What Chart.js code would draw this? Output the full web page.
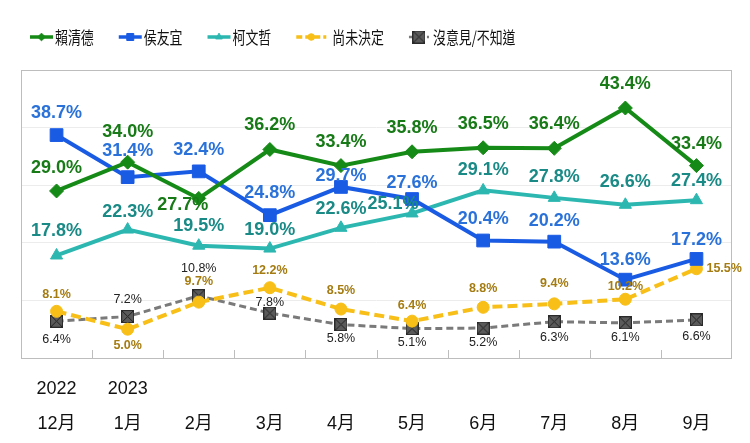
<!DOCTYPE html>
<html>
<head>
<meta charset="utf-8">
<script src="https://cdn.jsdelivr.net/npm/chart.js@4.4.0/dist/chart.umd.min.js"></script>
<style>
  html, body { margin: 0; padding: 0; background: #fff; }
</style>
</head>
<body>
<canvas id="chart" width="750" height="443"></canvas>
<script>
// Poll data
const years     = ['2022', '2023', '', '', '', '', '', '', '', '']
const months    = ['12月', '1月', '2月', '3月', '4月', '5月', '6月', '7月', '8月', '9月']
const lai       = [29.0, 34.0, 27.7, 36.2, 33.4, 35.8, 36.5, 36.4, 43.4, 33.4]
const hou       = [38.7, 31.4, 32.4, 24.8, 29.7, 27.6, 20.4, 20.2, 13.6, 17.2]
const ko        = [17.8, 22.3, 19.5, 19.0, 22.6, 25.1, 29.1, 27.8, 26.6, 27.4]
const undecided = [8.1, 5.0, 9.7, 12.2, 8.5, 6.4, 8.8, 9.4, 10.2, 15.5]
const noOpinion = [6.4, 7.2, 10.8, 7.8, 5.8, 5.1, 5.2, 6.3, 6.1, 6.6]

// label placement (offset of label centre from the point)
const laiLabelDy       = [-23, -30, 7, -24, -24, -24, -24, -24, -24, -22]
const houLabelDy       = [-22, -26, -21, -22, -11, -16, -21, -21, -20, -19]
const koLabelDy        = [-24, -18, -20, -19, -19, -9, -20, -21, -23, -19]
const undecidedLabelDy = [-17, 16, -21, -17, -18, -16, -19, -20, -13, 0]
const noOpinionLabelDy = [18, -17, -27, -11, 14, 14, 14, 16, 15, 17]

const CJK = '"Noto Sans CJK TC", "Noto Sans CJK SC", sans-serif'
const NUM = '"Liberation Sans", Arial, sans-serif'

// gray square with an X, used for the "no opinion" series
function crossBox(size)
{
  const cv = document.createElement('canvas')
  cv.width = size; cv.height = size
  const c = cv.getContext('2d')
  c.fillStyle = '#5a5a5a'
  c.fillRect(0, 0, size, size)
  c.strokeStyle = '#2a2a2a'
  c.lineWidth = 1
  c.strokeRect(0.5, 0.5, size - 1, size - 1)
  c.beginPath()
  c.moveTo(1, 1); c.lineTo(size - 1, size - 1)
  c.moveTo(size - 1, 1); c.lineTo(1, size - 1)
  c.strokeStyle = '#202020'
  c.stroke()
  return cv
}

const series = [
  { label: '賴清德', data: lai, color: '#168a16', text: '#177a17', style: 'rectRot', radius: 7,
    width: 4, dash: [], dy: laiLabelDy, font: 'bold 18px ' + NUM, sampleW: 23, gap: 2 },
  { label: '侯友宜', data: hou, color: '#1a5be4', text: '#2a72da', style: 'rect', radius: 9,
    width: 4, dash: [], dy: houLabelDy, font: 'bold 18px ' + NUM, sampleW: 23, gap: 2 },
  { label: '柯文哲', data: ko, color: '#2db7b1', text: '#1a8a86', style: 'triangle', radius: 7,
    width: 4, dash: [], dy: koLabelDy, font: 'bold 18px ' + NUM, sampleW: 23, gap: 2 },
  { label: '尚未決定', data: undecided, color: '#f7bf17', text: '#a57c12', style: 'circle', radius: 6,
    width: 4, dash: [10, 5], dy: undecidedLabelDy, font: 'bold 12.5px ' + NUM, sampleW: 30, gap: 6 },
  { label: '沒意見/不知道', data: noOpinion, color: '#7a7a7a', text: '#222', style: crossBox(13), radius: 6,
    width: 3, dash: [7, 4], dy: noOpinionLabelDy, font: '12.5px ' + NUM, sampleW: 20, gap: 4 }
]

// a couple of labels sit sideways in the reference
const labelDx = { '0-2': -16, '2-5': -19, '3-9': 10 }

const frame = {
  id: 'frame',
  beforeDatasetsDraw(chart)
  {
    const { ctx, chartArea: a, scales: { x } } = chart
    ctx.save()
    ctx.strokeStyle = '#bdbdbd'
    ctx.lineWidth = 1
    ctx.strokeRect(a.left + 0.5, a.top + 0.5, a.right - a.left - 1, a.bottom - a.top)
    ctx.beginPath()
    for( let i = 1; i < months.length; i++ )
    {
      const px = Math.round((x.getPixelForValue(i - 1) + x.getPixelForValue(i)) / 2) + 0.5
      ctx.moveTo(px, a.bottom)
      ctx.lineTo(px, a.bottom - 8)
    }
    ctx.stroke()
    ctx.restore()
  }
}

const valueLabels = {
  id: 'valueLabels',
  afterDatasetsDraw(chart)
  {
    const ctx = chart.ctx
    ctx.save()
    ctx.textBaseline = 'middle'
    series.forEach((s, si) => {
      const meta = chart.getDatasetMeta(si)
      ctx.font = s.font
      ctx.fillStyle = s.text
      meta.data.forEach((pt, i) => {
        const dx = labelDx[si + '-' + i] || 0
        ctx.textAlign = (si === 3 && i === 9) ? 'left' : 'center'
        ctx.fillText(s.data[i].toFixed(1) + '%', pt.x + dx, pt.y + s.dy[i])
      })
    })
    ctx.restore()
  }
}

const topLegend = {
  id: 'topLegend',
  afterDraw(chart)
  {
    const ctx = chart.ctx
    const y = 37
    let x = 30
    ctx.save()
    series.forEach(s => {
      // sample line with a small marker
      ctx.strokeStyle = s.color
      ctx.lineWidth = s.width - 0.5
      ctx.setLineDash(s.dash.length ? [6, 3] : [])
      ctx.beginPath()
      ctx.moveTo(x, y)
      ctx.lineTo(x + s.sampleW, y)
      ctx.stroke()
      ctx.setLineDash([])
      ctx.fillStyle = s.color
      ctx.strokeStyle = s.color
      ctx.lineWidth = 1
      Chart.helpers.drawPoint(ctx, { pointStyle: s.style, radius: s.radius * 0.55, borderWidth: 1 }, x + s.sampleW / 2, y)

      // label, a little narrow like in the picture
      const tx = x + s.sampleW + s.gap
      ctx.font = '17px ' + CJK
      ctx.fillStyle = '#111'
      ctx.textBaseline = 'middle'
      ctx.textAlign = 'left'
      const w = ctx.measureText(s.label).width * 0.76
      ctx.save()
      ctx.translate(tx, y + 1)
      ctx.scale(0.76, 1)
      ctx.fillText(s.label, 0, 0)
      ctx.restore()
      x = tx + w + 25
    })
    ctx.restore()
  }
}

new Chart(document.getElementById('chart'), {
  type: 'line',
  data: {
    labels: months.map((m, i) => [years[i], m]),
    datasets: series.map(s => ({
      label:                s.label,
      data:                 s.data,
      borderColor:          s.color,
      backgroundColor:      s.color,
      borderWidth:          s.width,
      borderDash:           s.dash,
      pointStyle:           s.style,
      pointRadius:          s.radius,
      pointHoverRadius:     s.radius,
      pointBackgroundColor: s.color,
      pointBorderColor:     s.color,
      pointBorderWidth:     1,
      tension:              0,
      clip:                 false
    }))
  },
  options: {
    responsive: false,
    animation: false,
    layout: { padding: { top: 70, left: 21, right: 18, bottom: 3 } },
    plugins: {
      legend:  { display: false },
      tooltip: { enabled: false }
    },
    scales: {
      x: {
        type: 'category',
        offset: true,
        grid:   { display: false },
        border: { display: false },
        afterFit: scale => { scale.height = 82 },
        ticks: {
          color: '#111',
          padding: 5,
          maxRotation: 0,
          autoSkip: false,
          font: { size: 18, family: NUM + ', ' + CJK, lineHeight: 1.95 }
        }
      },
      y: {
        min: 0,
        max: 50,
        grid:   { color: '#ececec', drawTicks: false },
        border: { display: false },
        ticks:  { display: false, stepSize: 10 },
        afterFit: scale => { scale.width = 0 }
      }
    }
  },
  plugins: [frame, valueLabels, topLegend]
})
</script>
</body>
</html>
